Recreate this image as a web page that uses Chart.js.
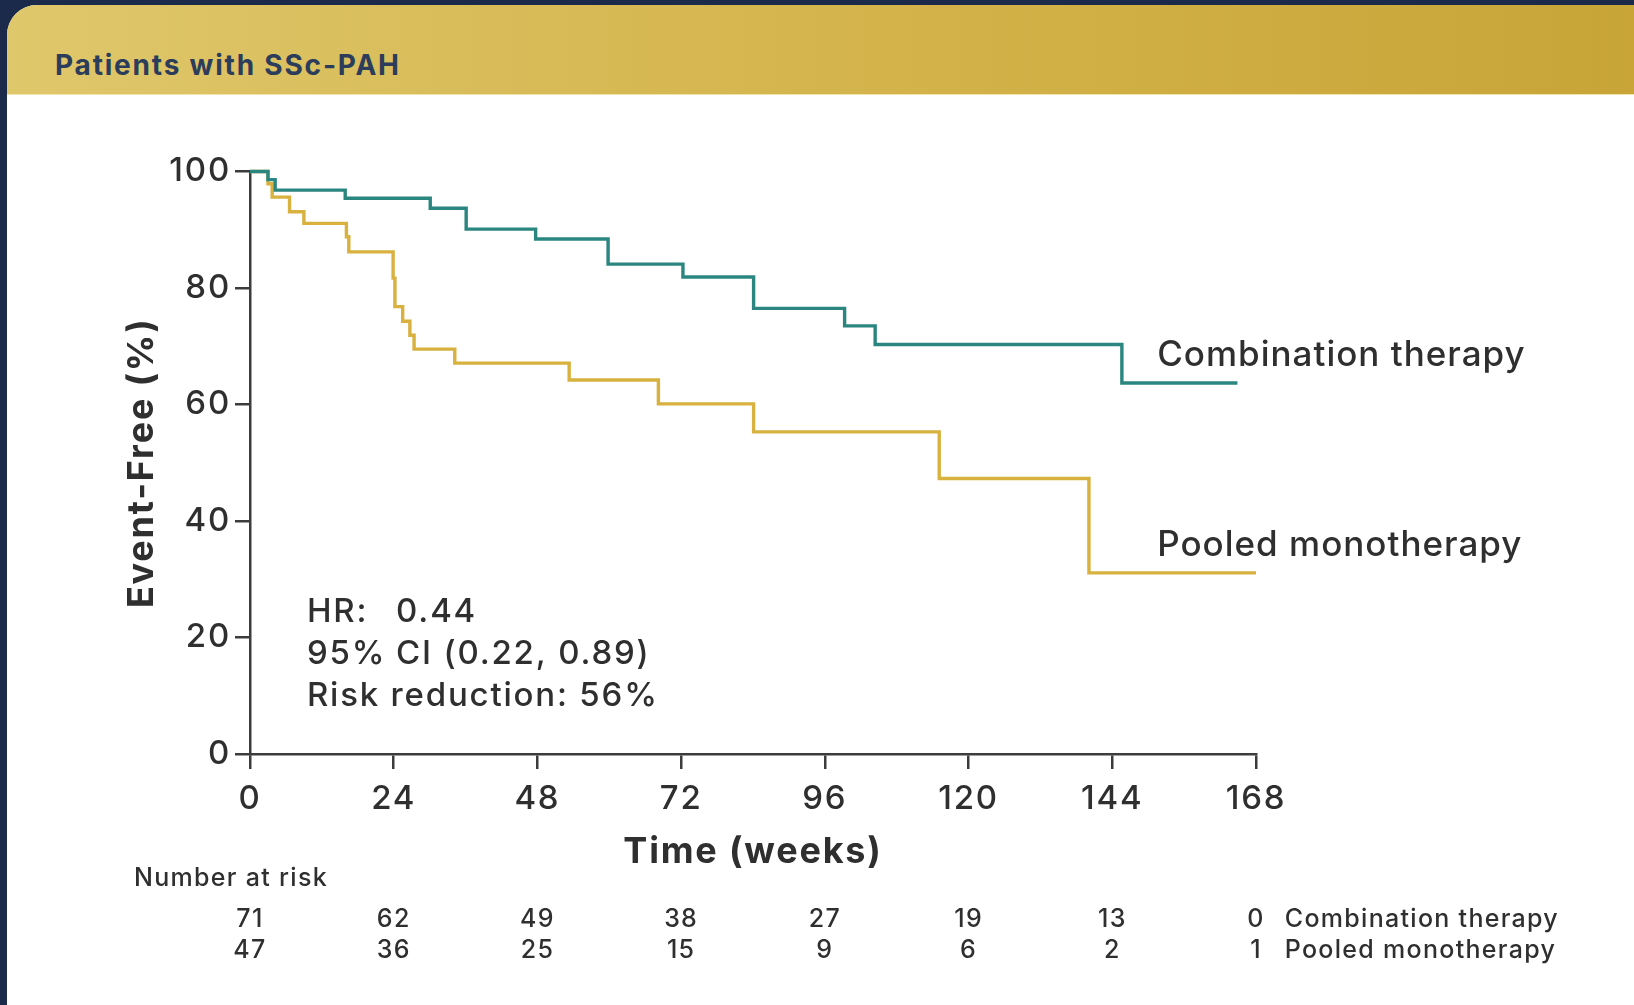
<!DOCTYPE html>
<html>
<head>
<meta charset="utf-8">
<script src="https://cdn.jsdelivr.net/npm/chart.js@4.4.1/dist/chart.umd.min.js"></script>
<style>
  html, body { margin: 0; padding: 0; background: #1b2a4a; overflow: hidden; }
  #page { position: relative; width: 1634px; height: 1005px; }
  #card { position: absolute; left: 7px; top: 5px; width: 1660px; height: 1040px; background: #fff; border-radius: 30px; overflow: hidden; }
  #header { position: absolute; left: 0; top: 0; width: 100%; height: 89px; background: linear-gradient(90deg, #dfc76b 0%, #d4b44c 50%, #c8a436 100%); border-bottom: 1px solid #f1e4b0; }
  #header span { position: absolute; left: 48px; top: 46px; font: bold 28px Inter, sans-serif; letter-spacing: 1.8px; line-height: 28px; color: #2c3d5c; }
  #wrap { position: absolute; left: 0; top: 0; width: 1634px; height: 1005px; }
</style>
</head>
<body>
<div id="page">
  <div id="card"><div id="header"><span>Patients with SSc-PAH</span></div></div>
  <div id="wrap"><canvas id="km"></canvas></div>
</div>
<script>
// Kaplan-Meier steps (week of event, % event-free after it)
var comboWeeks = [0, 3.0, 4.2, 15.9, 30.1, 36.1, 47.7, 59.8, 72.3, 84.1, 99.3, 104.4, 145.6, 164.9];
var comboPct   = [100, 98.6, 96.8, 95.4, 93.7, 90.1, 88.4, 84.1, 81.9, 76.5, 73.5, 70.3, 63.7, 63.7];

var pooledWeeks = [0, 3.0, 3.7, 6.6, 9.0, 16.1, 16.5, 23.9, 24.2, 25.5, 26.7, 27.4, 34.2, 53.3, 68.2, 84.1, 115.1, 140.1, 168];
var pooledPct   = [100, 97.9, 95.6, 93.1, 91.1, 88.8, 86.2, 81.7, 76.8, 74.3, 71.9, 69.5, 67.1, 64.2, 60.1, 55.3, 47.3, 31.1, 31.1];

var xTickWeeks = [0, 24, 48, 72, 96, 120, 144, 168];
var riskCombo  = [71, 62, 49, 38, 27, 19, 13, 0];
var riskPooled = [47, 36, 25, 15, 9, 6, 2, 1];

var seriesNames = ['Combination therapy', 'Pooled monotherapy'];
var statsLeft  = ['HR:', '95%', 'Risk reduction: 56%'];
var statsRight = ['0.44', 'CI (0.22, 0.89)', ''];

var FONT = 'Inter';
var TEXT = '#2f2f2f';
var AXIS = '#3c3c3c';
var TEAL = '#2b8680';
var GOLD = '#d8b13f';

function toPoints(xs, ys) {
  return xs.map(function (x, i) { return { x: x, y: ys[i] }; });
}

// wider tracking so Inter gets closer to the original's geometric face
var tracking = {
  id: 'tracking',
  beforeDraw: function (chart) { chart.ctx.letterSpacing = '1.8px'; }
};

var overlayText = {
  id: 'overlayText',
  afterDraw: function (chart) {
    var ctx = chart.ctx;
    var x = chart.scales.x, y = chart.scales.y;
    var bottom = chart.chartArea.bottom;
    ctx.save();
    ctx.fillStyle = TEXT;
    ctx.textBaseline = 'middle';

    // HR block
    ctx.letterSpacing = '1.8px';
    ctx.font = '500 33px ' + FONT;
    ctx.textAlign = 'left';
    for (var i = 0; i < statsLeft.length; i++) {
      var ly = y.getPixelForValue(24.3) + i * 42;
      ctx.fillText(statsLeft[i], x.getPixelForValue(9.5), ly);
      if (statsRight[i]) ctx.fillText(statsRight[i], x.getPixelForValue(24.4), ly);
    }

    // curve labels
    ctx.letterSpacing = '1.0px';
    ctx.font = '500 35px ' + FONT;
    ctx.fillText(seriesNames[0], x.getPixelForValue(151.5), y.getPixelForValue(68.4));
    ctx.fillText(seriesNames[1], x.getPixelForValue(151.5), y.getPixelForValue(35.8));

    // number at risk table
    ctx.letterSpacing = '1.3px';
    ctx.font = '500 25px ' + FONT;
    ctx.fillText('Number at risk', 134, bottom + 124);
    ctx.textAlign = 'center';
    for (var j = 0; j < xTickWeeks.length; j++) {
      var px = x.getPixelForValue(xTickWeeks[j]);
      ctx.fillText(String(riskCombo[j]), px, bottom + 165);
      ctx.fillText(String(riskPooled[j]), px, bottom + 196);
    }
    ctx.textAlign = 'left';
    ctx.fillText(seriesNames[0], x.getPixelForValue(172.8), bottom + 165);
    ctx.fillText(seriesNames[1], x.getPixelForValue(172.8), bottom + 196);
    ctx.restore();
  }
};

var kmChart = new Chart(document.getElementById('km'), {
  type: 'line',
  data: {
    datasets: [
      {
        label: seriesNames[0],
        data: toPoints(comboWeeks, comboPct),
        borderColor: TEAL,
        borderWidth: 3.4,
        stepped: 'before',
        pointRadius: 0,
        borderJoinStyle: 'miter',
        clip: false
      },
      {
        label: seriesNames[1],
        data: toPoints(pooledWeeks, pooledPct),
        borderColor: GOLD,
        borderWidth: 3.4,
        stepped: 'before',
        pointRadius: 0,
        borderJoinStyle: 'miter',
        clip: false
      }
    ]
  },
  options: {
    animation: false,
    responsive: true,
    maintainAspectRatio: false,
    layout: { padding: { top: 171.5, right: 378, bottom: 0, left: 0 } },
    plugins: {
      legend: { display: false },
      tooltip: { enabled: false }
    },
    scales: {
      x: {
        type: 'linear',
        min: 0,
        max: 168,
        afterFit: function (s) { s.height = 251; },
        afterBuildTicks: function (s) { s.ticks = xTickWeeks.map(function (v) { return { value: v }; }); },
        grid: { drawOnChartArea: false, drawTicks: true, tickLength: 15, color: AXIS, lineWidth: 2.5 },
        border: { display: true, color: AXIS, width: 2.5 },
        ticks: { font: { family: FONT, size: 33, weight: 500 }, color: TEXT, padding: 10, maxRotation: 0, autoSkip: false },
        title: {
          display: true,
          text: 'Time (weeks)',
          color: TEXT,
          font: { family: FONT, size: 36, weight: 'bold' },
          padding: { top: 0, bottom: 131 }
        }
      },
      y: {
        min: 0,
        max: 100,
        afterFit: function (s) { s.width = 250; },
        grid: { drawOnChartArea: false, drawTicks: true, tickLength: 15, color: AXIS, lineWidth: 2.5 },
        border: { display: true, color: AXIS, width: 2.5 },
        ticks: { stepSize: 20, font: { family: FONT, size: 33, weight: 500 }, color: TEXT, padding: 4 },
        title: {
          display: true,
          text: 'Event-Free (%)',
          color: TEXT,
          font: { family: FONT, size: 36, weight: 'bold' },
          padding: { top: 121, bottom: 0 }
        }
      }
    }
  },
  plugins: [tracking, overlayText]
});
</script>
</body>
</html>
